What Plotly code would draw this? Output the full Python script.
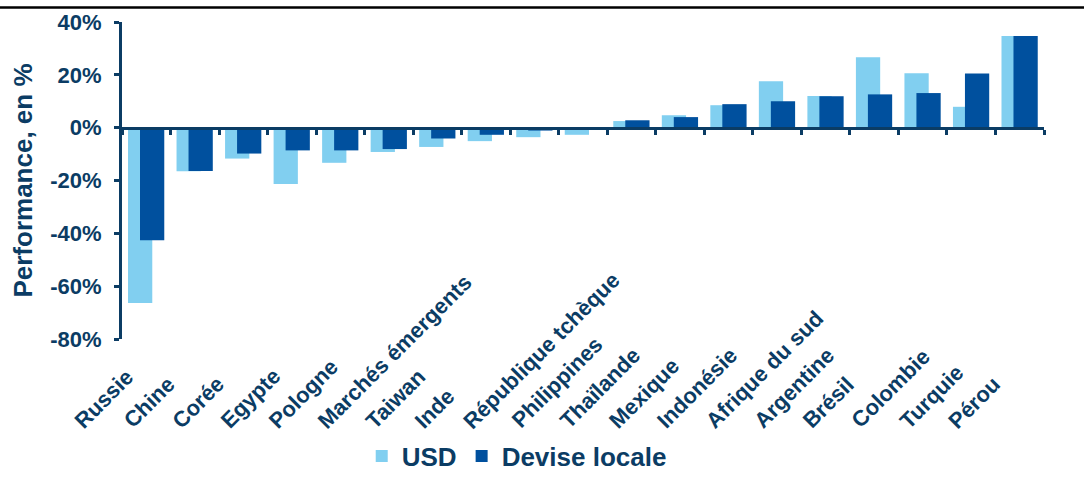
import plotly.graph_objects as go

categories = ["Russie", "Chine", "Corée", "Egypte", "Pologne", "Marchés émergents",
              "Taiwan", "Inde", "République tchèque", "Philippines", "Thaïlande",
              "Mexique", "Indonésie", "Afrique du sud", "Argentine", "Brésil",
              "Colombie", "Turquie", "Pérou"]
usd = [-66.4, -16.5, -11.7, -21.3, -13.3, -9.2, -7.3, -5.1, -3.6, -2.7,
       2.5, 4.7, 8.5, 17.6, 12.0, 26.7, 20.6, 7.9, 34.7]
local = [-42.6, -16.4, -9.8, -8.6, -8.6, -8.1, -4.1, -2.7, -1.1, -0.3,
         2.8, 4.0, 8.9, 10.0, 11.9, 12.6, 13.1, 20.5, 34.7]
yticks = [40, 20, 0, -20, -40, -60, -80]
series_names = ["USD", "Devise locale"]

NAVY = "#0B3C64"
LIGHT = "#81CFF0"
DARK = "#00509E"
FONT = "Liberation Sans, Arial, sans-serif"

fig = go.Figure()
fig.add_trace(go.Bar(x=categories, y=usd, name=series_names[0], marker_color=LIGHT,
                     width=0.5, offset=-0.376, marker_line_width=0))
fig.add_trace(go.Bar(x=categories, y=local, name=series_names[1], marker_color=DARK,
                     width=0.5, offset=-0.129, marker_line_width=0))

ymin, ymax = -80, 40
zero_pos = (0 - ymin) / (ymax - ymin)
PLOT_H = 317

annotations = []
for c in categories:
    annotations.append(dict(
        x=c, xref="x", y=-(436 - 339) / PLOT_H, yref="paper", text=c, showarrow=False,
        textangle=-45, xanchor="left", yanchor="bottom", xshift=-79,
        font=dict(family=FONT, size=22, color=NAVY, weight="bold")))

fig.update_layout(
    width=1084, height=478,
    margin=dict(l=122, r=40, t=22, b=139, autoexpand=False),
    paper_bgcolor="white", plot_bgcolor="white",
    barmode="overlay",
    showlegend=True,
    legend=dict(orientation="h", x=0.26, xanchor="left", y=-0.295, yanchor="top",
                font=dict(family=FONT, size=26, color=NAVY, weight="bold"),
                itemwidth=30, bgcolor="rgba(0,0,0,0)"),
    xaxis=dict(type="category", categoryorder="array", categoryarray=categories,
               range=[-0.5, len(categories) - 0.5],
               anchor="free", position=zero_pos,
               showline=True, linecolor=NAVY, linewidth=3,
               ticks="outside", tickson="boundaries", ticklen=5, tickwidth=2.5,
               tickcolor=NAVY, showticklabels=False, showgrid=False, zeroline=False),
    yaxis=dict(range=[ymin, ymax], tickvals=yticks,
               ticktext=[f"{v}%" for v in yticks],
               showline=True, linecolor=NAVY, linewidth=3,
               ticks="outside", ticklen=5, tickwidth=2.5, tickcolor=NAVY,
               ticklabelstandoff=8,
               tickfont=dict(family=FONT, size=22, color=NAVY, weight="bold"),
               showgrid=False, zeroline=False,
               title=dict(text="Performance, en %", standoff=11,
                          font=dict(family=FONT, size=26, color=NAVY, weight="bold"))),
    annotations=annotations,
    shapes=[dict(type="line", xref="paper", yref="paper",
                 x0=-122 / 922, x1=962 / 922, y0=1 + 14.5 / 317, y1=1 + 14.5 / 317,
                 line=dict(color="black", width=2.5))],
)

fig.write_html("out.html")
